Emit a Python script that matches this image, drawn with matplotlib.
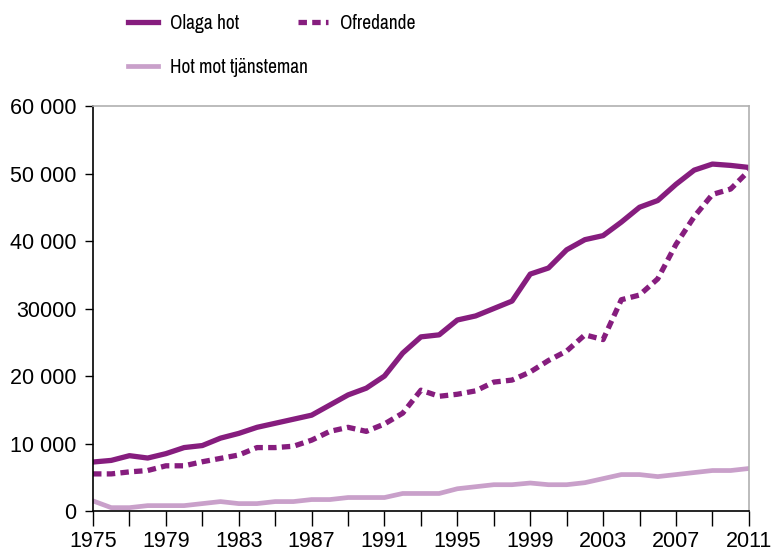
import matplotlib
matplotlib.use('Agg')
import matplotlib.pyplot as plt
from matplotlib.ticker import FixedLocator, FuncFormatter

years = list(range(1975, 2012))

olaga_hot = [7260, 7500, 8200, 7850, 8500, 9400, 9700, 10800, 11500, 12400,
             13000, 13600, 14200, 15700, 17200, 18200, 20000, 23400, 25800, 26100,
             28300, 28900, 30000, 31100, 35100, 36000, 38700, 40200, 40800, 42800,
             45000, 46000, 48400, 50500, 51400, 51200, 50900]
ofredande = [5500, 5500, 5800, 6000, 6700, 6700, 7300, 7800, 8300, 9400,
             9400, 9600, 10500, 11800, 12400, 11800, 12900, 14500, 17900, 17000,
             17300, 17800, 19100, 19400, 20600, 22300, 23700, 26100, 25400, 31300,
             32000, 34400, 39500, 43600, 46900, 47700, 50400]
hot_tjansteman = [1500, 500, 500, 800, 800, 800, 1100, 1400, 1100, 1100,
                  1400, 1400, 1700, 1700, 2000, 2000, 2000, 2600, 2600, 2600,
                  3300, 3600, 3900, 3900, 4150, 3900, 3900, 4200, 4800, 5400,
                  5400, 5100, 5400, 5700, 6000, 6000, 6300]

labels = ['Olaga hot', 'Ofredande', 'Hot mot tjänsteman']
ytick_vals = [0, 10000, 20000, 30000, 40000, 50000, 60000]
ytick_labels = ['0', '10 000', '20 000', '30000', '40 000', '50 000', '60 000']

dark = '#861D7E'
light = '#C9A0CA'

plt.rcParams['font.family'] = ['Liberation Sans', 'DejaVu Sans']

fig = plt.figure(figsize=(7.72, 5.53), dpi=100)
ax = fig.add_axes([0.1205, 0.0759, 0.8495, 0.7324])

l1, = ax.plot(years, olaga_hot, color=dark, lw=3.8, solid_joinstyle='round')
l2, = ax.plot(years, ofredande, color=dark, lw=3.8, dashes=(1.6, 1.0),
              dash_capstyle='butt')
l3, = ax.plot(years, hot_tjansteman, color=light, lw=3.4)

ax.set_xlim(1975, 2011)
ax.set_ylim(0, 60000)
ax.set_yticks(ytick_vals)
ax.set_yticklabels(ytick_labels)
ax.xaxis.set_major_locator(FixedLocator(list(range(1975, 2012, 2))))
ax.xaxis.set_major_formatter(FuncFormatter(
    lambda v, p: str(int(v)) if (int(v) - 1975) % 4 == 0 else ''))
ax.tick_params(axis='x', direction='out', length=11, width=1, labelsize=15.5, pad=3.5)
ax.tick_params(axis='y', direction='out', length=6, width=1, labelsize=15.5, pad=6)

for s in ['left', 'bottom']:
    ax.spines[s].set_color('black')
    ax.spines[s].set_linewidth(1.2)
for s in ['top', 'right']:
    ax.spines[s].set_color('#B0B0B0')
    ax.spines[s].set_linewidth(1.2)

fig.legend([l1, l3, l2], [labels[0], labels[2], labels[1]], ncol=2,
           loc='upper left', bbox_to_anchor=(0.166, 0.975), frameon=False,
           prop={'family': ['Archivo Narrow', 'Liberation Sans'], 'size': 14},
           handlelength=1.55, handletextpad=0.6, columnspacing=-0.5,
           labelspacing=1.28, borderpad=0, borderaxespad=0)

plt.savefig('out.png', dpi=100)
